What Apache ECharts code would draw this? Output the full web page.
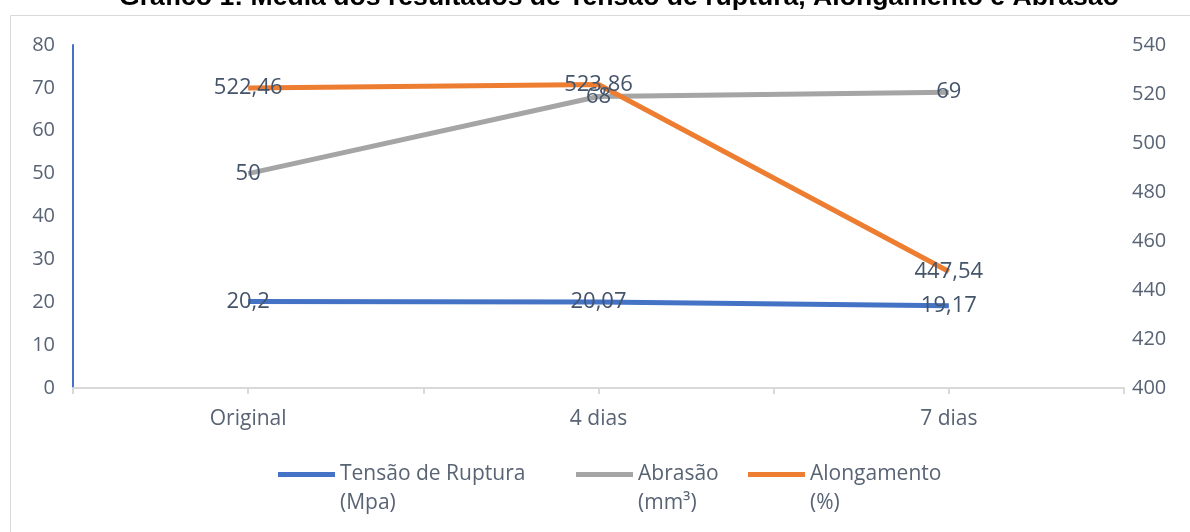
<!DOCTYPE html>
<html>
<head>
<meta charset="utf-8">
<script src="https://cdn.jsdelivr.net/npm/echarts@6/dist/echarts.min.js"></script>
<style>
  html, body { margin: 0; padding: 0; background: #fff; }
  #chart { width: 1190px; height: 532px; }
</style>
</head>
<body>
<div id="chart"></div>
<script>
// categorias e valores
var categories = ['Original', '4 dias', '7 dias']
var tensao = [20.2, 20.07, 19.17]
var abrasao = [50, 68, 69]
var alongamento = [522.46, 523.86, 447.54]
var tickSlots = ['', '', '', '', '', '', '']

var FONT = 'Open Sans'
var TXT = '#586374'

var chart = echarts.init(document.getElementById('chart'))

function fmt(p) {
  return String(p.value).replace('.', ',')
}

function legendAt(left, name) {
  return {
    data: [name],
    left: left,
    top: 431,
    padding: 0,
    icon: 'rect',
    itemWidth: 57,
    itemHeight: 5,
    formatter: function (n) { return '\n' + n },
    textStyle: { fontFamily: FONT, fontSize: 21, color: TXT, lineHeight: 29 }
  }
}

var option = {
  color: ['#4472c4', '#a5a5a5', '#ed7d31'],
  title: {
    text: 'Gráfico 1: Média dos resultados de Tensão de ruptura, Alongamento e Abrasão',
    left: 114,
    top: -21,
    textStyle: { fontFamily: 'Liberation Sans', fontWeight: 'bold', fontSize: 26.6, color: '#000' }
  },
  graphic: [{
    type: 'rect',
    shape: { x: 10.5, y: 15.5, width: 1300, height: 600 },
    style: { fill: 'none', stroke: '#d9d9d9', lineWidth: 1 },
    silent: true
  }],
  legend: [
    legendAt(278, 'Tensão de Ruptura\n(Mpa)'),
    legendAt(576, 'Abrasão\n(mm³)'),
    legendAt(748, 'Alongamento\n(%)')
  ],
  grid: { left: 73, right: 66, top: 45, bottom: 144 },
  xAxis: [{
    type: 'category',
    data: categories,
    axisLine: { lineStyle: { color: '#d9d9d9', width: 2 } },
    axisTick: { show: false },
    axisLabel: { fontFamily: FONT, fontSize: 21, color: TXT, margin: 21 }
  }, {
    // só as marcas a cada meia categoria
    type: 'category',
    data: tickSlots,
    boundaryGap: false,
    position: 'bottom',
    axisLine: { show: false },
    axisTick: { show: true, length: 6, lineStyle: { color: '#d9d9d9', width: 2 } },
    axisLabel: { show: false }
  }],
  yAxis: [{
    type: 'value',
    min: 0,
    max: 80,
    interval: 10,
    axisLine: { show: true, lineStyle: { color: '#4472c4', width: 2 } },
    axisTick: { show: false },
    splitLine: { show: false },
    axisLabel: { fontFamily: FONT, fontSize: 20, color: TXT, margin: 18 }
  }, {
    type: 'value',
    min: 400,
    max: 540,
    interval: 20,
    axisLine: { show: false },
    axisTick: { show: false },
    splitLine: { show: false },
    axisLabel: { fontFamily: FONT, fontSize: 20, color: TXT, margin: 8 }
  }],
  series: [{
    name: 'Tensão de Ruptura\n(Mpa)',
    type: 'line',
    data: tensao,
    yAxisIndex: 0,
    symbol: 'circle',
    symbolSize: 0,
    lineStyle: { width: 5 }
  }, {
    name: 'Abrasão\n(mm³)',
    type: 'line',
    data: abrasao,
    yAxisIndex: 0,
    symbol: 'circle',
    symbolSize: 0,
    lineStyle: { width: 5 }
  }, {
    name: 'Alongamento\n(%)',
    type: 'line',
    data: alongamento,
    yAxisIndex: 1,
    symbol: 'circle',
    symbolSize: 0,
    lineStyle: { width: 5 }
  }].map(function (s) {
    s.label = { show: true, position: 'inside', formatter: fmt, fontFamily: FONT, fontSize: 22, color: '#44546a' }
    s.emphasis = { disabled: true }
    s.animation = false
    return s
  })
}

chart.setOption(option)
</script>
</body>
</html>
